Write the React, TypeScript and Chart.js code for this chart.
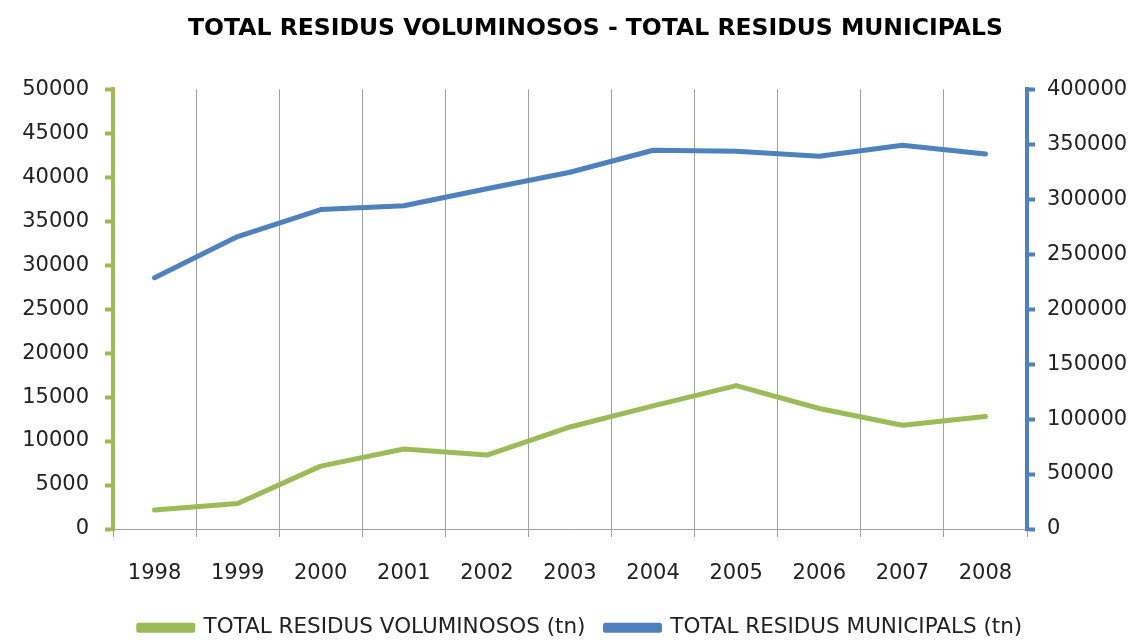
import React, { useEffect, useRef } from "react";
import { Chart, registerables } from "chart.js";

Chart.register(...registerables);

const years = ["1998", "1999", "2000", "2001", "2002", "2003", "2004", "2005", "2006", "2007", "2008"];
const voluminosos = [2150, 2900, 7150, 9100, 8400, 11600, 14000, 16300, 13700, 11800, 12800];
const municipals = [228500, 266000, 290500, 294000, 309500, 324500, 344500, 343500, 339000, 349000, 341000];

const titleText = "TOTAL RESIDUS VOLUMINOSOS - TOTAL RESIDUS MUNICIPALS";
const labelVol = "TOTAL RESIDUS VOLUMINOSOS (tn)";
const labelMun = "TOTAL RESIDUS MUNICIPALS (tn)";

const GREEN = "#9BBB59";
const BLUE = "#4F81BD";
const GRID = "#A0A0A0";
const FONT = "'DejaVu Sans', sans-serif";

// shifts the title and legend boxes horizontally to match the reference placement
const shiftBoxes = {
  id: "shiftBoxes",
  afterLayout(chart: any) {
    if (chart.titleBlock) {
      chart.titleBlock.left += 27;
      chart.titleBlock.right += 27;
    }
    if (chart.legend) {
      chart.legend.left += 12;
      chart.legend.right += 12;
    }
  },
};

export default function App() {
  const ref = useRef<HTMLCanvasElement | null>(null);

  useEffect(() => {
    document.body.style.margin = "0";
    const canvas = ref.current;
    if (!canvas) return;
    const plain = (v: any) => String(v);
    const chart = new Chart(canvas, {
      type: "line",
      data: {
        labels: years,
        datasets: [
          {
            label: labelVol,
            data: voluminosos,
            borderColor: GREEN,
            backgroundColor: GREEN,
            borderWidth: 5,
            pointRadius: 0,
            borderCapStyle: "round",
            borderJoinStyle: "round",
            tension: 0,
            yAxisID: "y",
          },
          {
            label: labelMun,
            data: municipals,
            borderColor: BLUE,
            backgroundColor: BLUE,
            borderWidth: 5,
            pointRadius: 0,
            borderCapStyle: "round",
            borderJoinStyle: "round",
            tension: 0,
            yAxisID: "y1",
          },
        ],
      },
      plugins: [shiftBoxes],
      options: {
        animation: false,
        responsive: false,
        maintainAspectRatio: false,
        layout: { padding: { left: 0, right: 0, top: 0, bottom: 0 } },
        plugins: {
          title: {
            display: true,
            text: titleText,
            color: "#000",
            font: { family: FONT, size: 23.5, weight: "bold" },
            padding: { top: 15, bottom: 46 },
          },
          legend: {
            position: "bottom",
            maxHeight: 43,
            labels: {
              color: "#222",
              font: { family: FONT, size: 21.5 },
              boxWidth: 54,
              boxHeight: 5,
              padding: 20,
            },
          },
          tooltip: { enabled: false },
        },
        scales: {
          x: {
            type: "category",
            offset: true,
            grid: {
              offset: true,
              color: GRID,
              lineWidth: 1,
              tickLength: 8,
              drawTicks: true,
            },
            border: { color: GRID, width: 1 },
            ticks: { color: "#222", font: { family: FONT, size: 21 }, padding: 24 },
            afterFit: (s: any) => {
              s.height = 68;
            },
          },
          y: {
            type: "linear",
            position: "left",
            min: 0,
            max: 50000,
            ticks: { stepSize: 5000, color: "#222", font: { family: FONT, size: 21 }, padding: 16, callback: plain },
            grid: {
              drawOnChartArea: false,
              drawTicks: true,
              tickLength: 8,
              color: GREEN,
              tickColor: GREEN,
              lineWidth: 3,
              tickWidth: 4,
            },
            border: { color: GREEN, width: 4 },
            afterFit: (s: any) => {
              s.width = 113;
            },
          },
          y1: {
            type: "linear",
            position: "right",
            min: 0,
            max: 400000,
            ticks: { stepSize: 50000, color: "#222", font: { family: FONT, size: 21 }, padding: 12, callback: plain },
            grid: {
              drawOnChartArea: false,
              drawTicks: true,
              tickLength: 8,
              color: BLUE,
              tickColor: BLUE,
              lineWidth: 3,
              tickWidth: 4,
            },
            border: { color: BLUE, width: 4 },
            afterFit: (s: any) => {
              s.width = 110;
            },
          },
        },
      },
    });
    return () => chart.destroy();
  }, []);

  return (
    <div style={{ width: 1137, height: 640, background: "#fff" }}>
      <canvas ref={ref} width={1137} height={640} style={{ display: "block", width: 1137, height: 640 }} />
    </div>
  );
}
